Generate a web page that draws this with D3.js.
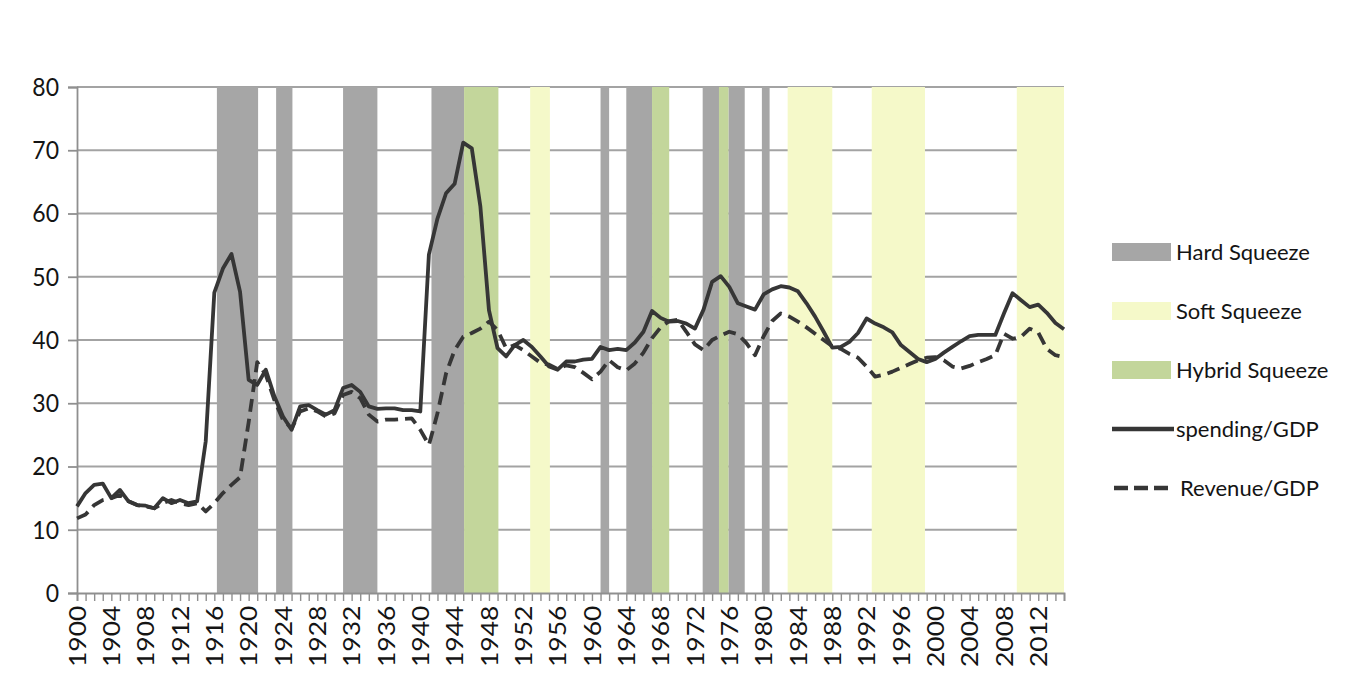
<!DOCTYPE html>
<html><head><meta charset="utf-8">
<script src="https://cdn.jsdelivr.net/npm/d3@7"></script>
<style>body{margin:0;background:#fff} svg text{font-family:Lato,"Open Sans",sans-serif;fill:#141414}</style>
</head><body><svg id="chart" width="1356" height="687"></svg>
<script>
const startYear = 1900, endYear = 2015;
const years = d3.range(startYear, endYear + 1);
const spending = [
13.7,15.8,17.1,17.3,15.0,16.3,14.5,13.9,13.8,13.4,
15.0,14.2,14.7,14.2,14.5,24.0,47.5,51.3,53.6,47.6,
33.7,32.9,35.3,31.1,27.9,25.8,29.5,29.7,28.9,28.2,
28.9,32.4,32.9,31.8,29.5,29.1,29.2,29.2,28.9,28.9,
28.7,53.5,59.2,63.2,64.7,71.2,70.3,61.1,44.7,38.7,
37.4,39.2,40.0,38.9,37.4,35.8,35.3,36.6,36.6,36.9,
37.0,38.9,38.4,38.6,38.4,39.6,41.3,44.6,43.5,42.9,
43.0,42.6,41.8,44.8,49.2,50.1,48.4,45.8,45.3,44.8,
47.2,48.0,48.5,48.3,47.7,45.8,43.7,41.3,38.8,38.9,
39.7,41.1,43.4,42.6,42.0,41.2,39.2,38.1,37.0,36.5,
37.0,38.0,38.9,39.8,40.6,40.8,40.8,40.8,44.2,47.4,
46.3,45.2,45.6,44.3,42.7,41.7];
const revenue = [
11.8,12.4,13.9,14.7,15.0,15.5,14.5,13.9,13.7,13.4,
14.2,14.7,14.2,13.9,14.2,12.9,14.2,15.8,17.1,18.3,
27.0,36.5,34.5,30.5,27.4,26.0,28.7,29.2,28.7,27.9,
28.4,31.3,31.8,30.8,28.2,27.1,27.4,27.4,27.5,27.6,
25.8,23.4,28.4,34.7,38.4,40.5,41.1,41.8,42.9,41.6,
38.7,39.2,38.4,37.4,36.4,36.1,35.4,36.0,35.7,34.8,
33.8,35.0,36.8,35.7,35.2,36.3,38.0,40.3,42.0,43.0,
43.2,41.3,39.3,38.4,40.0,40.7,41.3,40.9,39.5,37.6,
40.6,43.0,44.2,43.7,42.9,42.0,41.0,40.0,39.0,38.6,
37.8,37.2,35.8,34.2,34.5,35.0,35.6,36.2,36.8,37.2,
37.3,36.8,35.8,35.5,35.9,36.5,37.0,37.6,41.0,40.2,
40.5,41.8,41.2,38.6,37.6,37.3];
const yTicks = [0,10,20,30,40,50,60,70,80];
const xLabelYears = [1900,1904,1908,1912,1916,1920,1924,1928,1932,1936,1940,1944,1948,1952,1956,1960,1964,1968,1972,1976,1980,1984,1988,1992,1996,2000,2004,2008,2012];
const hardSqueeze = [[1916.3,1921.1],[1923.2,1925.1],[1931.0,1935.0],[1941.3,1945.1],[1961.0,1962.0],[1964.0,1967.0],[1972.9,1974.8],[1975.9,1977.8],[1979.8,1980.7]];
const softSqueeze = [[1952.8,1955.1],[1982.8,1988.0],[1992.6,1998.8],[2009.5,2015.0]];
const hybridSqueeze = [[1945.1,1949.1],[1967.0,1969.0],[1974.8,1975.9]];
const bandTypes = [
  {name:"Hard Squeeze", color:"#a6a6a6", spans:hardSqueeze},
  {name:"Soft Squeeze", color:"#f5f9c9", spans:softSqueeze},
  {name:"Hybrid Squeeze", color:"#c3d69b", spans:hybridSqueeze}
];
const seriesList = [
  {name:"spending/GDP", values:spending, dash:null},
  {name:"Revenue/GDP", values:revenue, dash:"13,7"}
];

const svg = d3.select("#chart");
const L = 77, R = 1064, T = 87, B = 593;
const x = d3.scaleLinear().domain([startYear, endYear]).range([L, R]);
const y = d3.scaleLinear().domain([0, 80]).range([B, T]);
const axisColor = "#8f8f8f", lineColor = "#363636";

svg.append("rect").attr("width",1356).attr("height",687).attr("fill","#fff");

// gridlines
svg.append("g").selectAll("line").data(yTicks.filter(d=>d>0)).join("line")
  .attr("x1",L).attr("x2",R).attr("y1",d=>y(d)).attr("y2",d=>y(d))
  .attr("stroke","#a3a3a3").attr("stroke-width",1.8);

// bands
bandTypes.forEach(bt=>{
  svg.append("g").selectAll("rect").data(bt.spans).join("rect")
    .attr("x",d=>x(d[0])).attr("width",d=>x(d[1])-x(d[0]))
    .attr("y",T).attr("height",B-T).attr("fill",bt.color);
});

// y axis
const yAxis = d3.axisLeft(y).tickValues(yTicks).tickSize(9).tickPadding(9);
const gy = svg.append("g").attr("transform",`translate(${L},0)`).call(yAxis);
gy.select(".domain").attr("stroke",axisColor).attr("stroke-width",1.8);
gy.selectAll(".tick line").attr("stroke",axisColor).attr("stroke-width",1.8);
gy.selectAll(".tick text").attr("font-size",23).attr("fill","#141414").style("font-family","Lato")
  .attr("transform","scale(1,1.13)");

// x axis
const xAxis = d3.axisBottom(x).tickValues(years).tickSize(8)
  .tickFormat(d=> xLabelYears.includes(d) ? String(d) : "");
const gx = svg.append("g").attr("transform",`translate(0,${B})`).call(xAxis);
gx.select(".domain").attr("stroke",axisColor).attr("stroke-width",1.8);
gx.selectAll(".tick line").attr("stroke",axisColor).attr("stroke-width",1.4);
gx.selectAll(".tick text").attr("font-size",23).attr("fill","#141414").style("font-family","Lato")
  .attr("text-anchor","end").attr("transform","rotate(-90) scale(1.15,1)")
  .attr("x",-11).attr("y",0).attr("dy","0.36em");

// lines
const line = d3.line().x((d,i)=>x(years[i])).y(d=>y(d));
seriesList.forEach(s=>{
  svg.append("path").datum(s.values).attr("d",line)
    .attr("fill","none").attr("stroke",lineColor).attr("stroke-width",3.8)
    .attr("stroke-linejoin","round").attr("stroke-dasharray",s.dash);
});

// legend
const lg = svg.append("g").attr("transform","translate(1112,0)");
const rowsY = [252,311,370,429,488];
bandTypes.forEach((bt,i)=>{
  lg.append("rect").attr("x",0).attr("y",rowsY[i]-9).attr("width",59).attr("height",18).attr("fill",bt.color);
  lg.append("text").attr("x",64).attr("y",rowsY[i]).attr("dy","0.35em").attr("font-size",22).text(bt.name);
});
seriesList.forEach((s,j)=>{
  const ry = rowsY[3+j];
  lg.append("line").attr("x1",s.dash?2:0).attr("x2",s.dash?60:62).attr("y1",ry).attr("y2",ry)
    .attr("stroke",lineColor).attr("stroke-width",4.4).attr("stroke-dasharray",s.dash?"14,6":null);
  lg.append("text").attr("x",s.dash?68:64).attr("y",ry).attr("dy","0.35em").attr("font-size",22).text(s.name);
});
</script></body></html>
